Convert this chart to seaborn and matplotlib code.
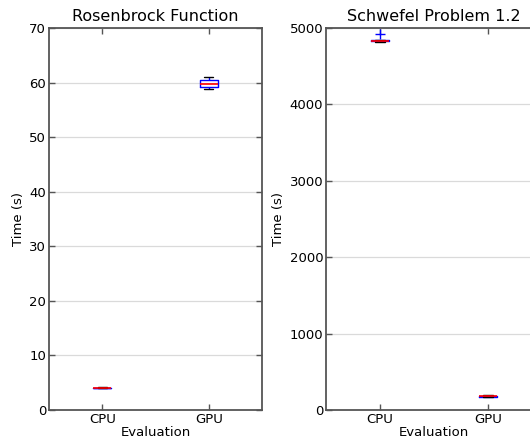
import matplotlib
matplotlib.use("Agg")
import matplotlib.pyplot as plt
import numpy as np
import pandas as pd
import seaborn as sns

# Wall-clock timings (seconds) per repeated run
evaluations = ["CPU", "GPU"]
rosenbrock_cpu = [4.02, 4.05, 4.08, 4.10, 4.12, 4.15]
rosenbrock_gpu = [58.9, 59.1, 59.3, 59.6, 59.8, 60.4, 60.7, 61.0]
schwefel_cpu = [4815, 4822, 4828, 4833, 4838, 4845, 4915]
schwefel_gpu = [168, 172, 175, 177, 180, 183, 190]

titles = ["Rosenbrock Function", "Schwefel Problem 1.2"]
ylims = [(0, 70), (0, 5000)]
yticks = [list(range(0, 71, 10)), list(range(0, 5001, 1000))]


def frame(cpu, gpu):
    return pd.DataFrame({
        "Evaluation": ["CPU"] * len(cpu) + ["GPU"] * len(gpu),
        "Time (s)": list(cpu) + list(gpu),
    })


sns.set_style("white")
plt.rcParams["font.family"] = ["DejaVu Sans"]
plt.rcParams["text.color"] = "black"
plt.rcParams["axes.labelcolor"] = "black"
plt.rcParams["xtick.color"] = "black"
plt.rcParams["ytick.color"] = "black"

fig = plt.figure(figsize=(5.30, 4.41), dpi=100)
ax_left = fig.add_axes([0.0925, 0.0703, 0.4019, 0.8662])
ax_right = fig.add_axes([0.6151, 0.0703, 0.4075, 0.8662])

spine_color = "#555555"
datasets = [frame(rosenbrock_cpu, rosenbrock_gpu), frame(schwefel_cpu, schwefel_gpu)]

for ax, df, title, ylim, yt in zip([ax_left, ax_right], datasets, titles, ylims, yticks):
    ax.set_axisbelow(True)
    ax.yaxis.grid(True, color="#dadada", linewidth=0.9)
    sns.boxplot(
        data=df, x="Evaluation", y="Time (s)", order=evaluations, ax=ax,
        width=0.17, fill=False, linecolor="blue", linewidth=1.0,
        boxprops=dict(color="blue"),
        medianprops=dict(color="red", linewidth=1.2),
        whiskerprops=dict(color="blue", linestyle="--"),
        capprops=dict(color="black"),
        flierprops=dict(marker="+", markeredgecolor="blue", markersize=7,
                        markerfacecolor="none"),
    )
    ax.set_xlim(-0.5, 1.5)
    ax.set_ylim(*ylim)
    ax.set_yticks(yt)
    ax.set_title(title, fontsize=11.5, pad=5)
    ax.set_xlabel("Evaluation", fontsize=9.5, labelpad=0)
    ax.set_ylabel("Time (s)", fontsize=9.5, labelpad=3)
    for s in ax.spines.values():
        s.set_visible(True)
        s.set_color(spine_color)
        s.set_linewidth(1.3)
    ax.tick_params(direction="in", length=4, width=1, color=spine_color,
                   labelcolor="black", labelsize=9.5, top=True, right=True,
                   bottom=True, left=True, pad=2)

fig.savefig("out.png", dpi=100)
